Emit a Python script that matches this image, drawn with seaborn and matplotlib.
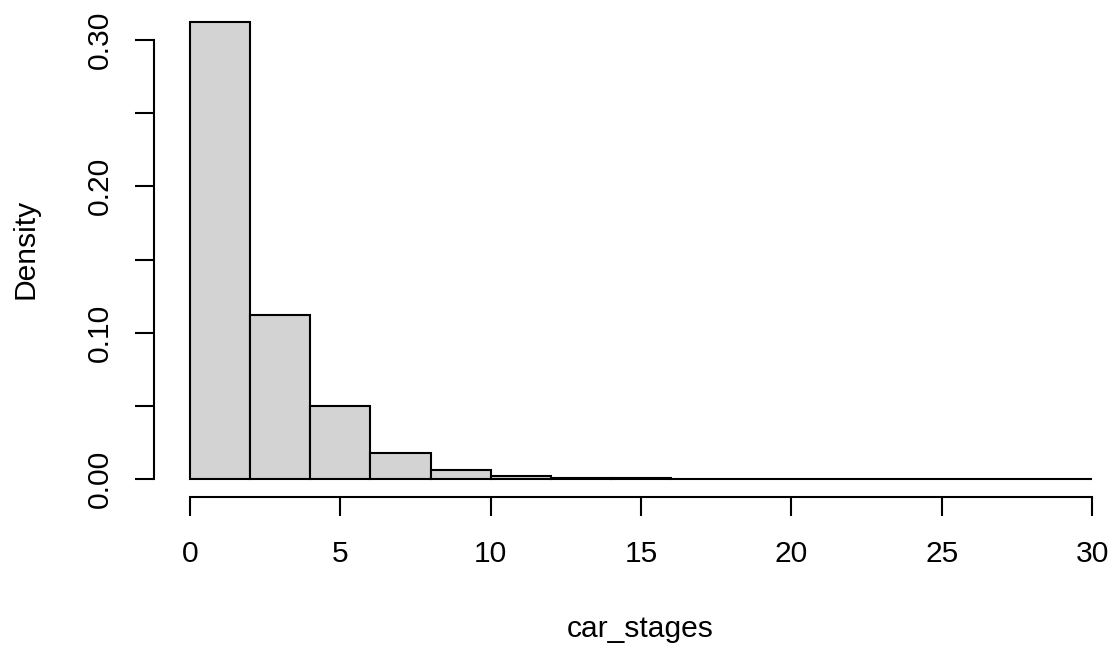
import numpy as np
import pandas as pd
import matplotlib
matplotlib.use("Agg")
import matplotlib.pyplot as plt
import seaborn as sns

# Histogram data (R hist, freq=FALSE): bin edges and densities
bin_edges = [0, 2, 4, 6, 8, 10, 12, 14, 16, 18, 20, 22, 24, 26, 28, 30]
densities = [0.3123, 0.1121, 0.0497, 0.0180, 0.0062, 0.0023, 0.0009, 0.0004,
             0.0002, 0.0001, 0.00007, 0.00005, 0.00003, 0.00002, 0.00001]
x_ticks = [0, 5, 10, 15, 20, 25, 30]
y_ticks = [0.00, 0.05, 0.10, 0.15, 0.20, 0.25, 0.30]
y_tick_labels = ["0.00", "", "0.10", "", "0.20", "", "0.30"]
x_label = "car_stages"
y_label = "Density"

sns.set_style("white")
plt.rcParams["font.family"] = ["Liberation Sans", "DejaVu Sans"]
plt.rcParams["text.color"] = "black"
plt.rcParams["axes.labelcolor"] = "black"

W, H = 1115, 650
fig = plt.figure(figsize=(W / 100, H / 100), dpi=100)

# axes placement in pixels (R plot region)
x0_px, x_per_unit = 190.0, 30.07
y0_px, y_per_unit = 479.0, 1463.3
xlim = (-1.2, 31.2)
ylim = (-0.0125, 0.325)
left_px = x0_px + xlim[0] * x_per_unit
right_px = x0_px + xlim[1] * x_per_unit
bottom_px = y0_px - ylim[0] * y_per_unit
top_px = y0_px - ylim[1] * y_per_unit
ax = fig.add_axes([left_px / W, 1 - bottom_px / H,
                   (right_px - left_px) / W, (bottom_px - top_px) / H])

mids = [(a + b) / 2 for a, b in zip(bin_edges[:-1], bin_edges[1:])]
df = pd.DataFrame({"x": mids, "density": densities})
sns.histplot(data=df, x="x", weights="density", bins=list(bin_edges),
             stat="count", color="#D3D3D3", edgecolor="black",
             linewidth=1.5, alpha=1, ax=ax)

ax.set_xlim(*xlim)
ax.set_ylim(*ylim)

for s in ["top", "right"]:
    ax.spines[s].set_visible(False)
for s in ["left", "bottom"]:
    ax.spines[s].set_linewidth(1.5)
    ax.spines[s].set_color("black")
ax.spines["left"].set_bounds(0, 0.30)
ax.spines["bottom"].set_bounds(0, 30)

ax.set_xticks(x_ticks)
ax.set_xticklabels([str(t) for t in x_ticks])
ax.set_yticks(y_ticks)
ax.set_yticklabels(y_tick_labels, rotation=90, va="center")

ax.tick_params(axis="both", which="major", direction="out", length=13.7,
               width=1.5, color="black", labelsize=21.6, labelcolor="black",
               bottom=True, left=True, top=False, right=False)
ax.tick_params(axis="x", pad=17)
ax.tick_params(axis="y", pad=15)

ax.set_xlabel(x_label, fontsize=21.6, va="baseline", color="black")
ax.xaxis.set_label_coords(640 / W, 1 - 637 / H, transform=fig.transFigure)
ax.set_ylabel(y_label, fontsize=21.6, ha="center", va="center", color="black")
ax.yaxis.set_label_coords(26 / W, 1 - 249 / H, transform=fig.transFigure)
ax.grid(False)

fig.savefig("out.png", dpi=100)
